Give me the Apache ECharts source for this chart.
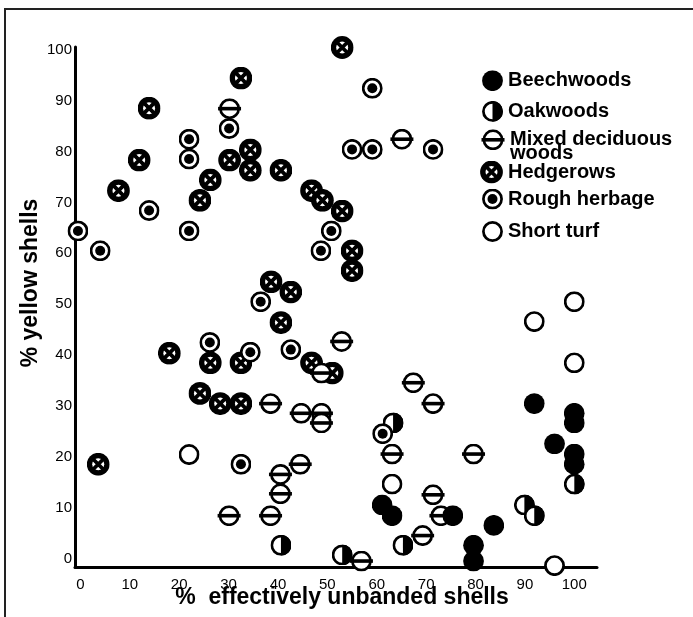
<!DOCTYPE html>
<html><head><meta charset="utf-8">
<script src="https://cdn.jsdelivr.net/npm/echarts@6/dist/echarts.min.js"></script>
<style>html,body{margin:0;padding:0;background:#fff}#c{width:693px;height:617px}</style>
</head><body><div id="c"></div>
<script>
// ---- data (x = % effectively unbanded shells, y = % yellow shells) ----
const beechwoods = [[91.9,30.5],[100,28.6],[100,26.7],[96,22.6],[100,20.6],[100,18.6],[61.1,10.6],[63.1,8.5],[75.4,8.5],[83.7,6.6],[79.6,2.7],[79.6,-0.4]];
const oakwoods = [[63.3,26.7],[40.6,2.7],[53,0.8],[65.3,2.7],[89.9,10.6],[91.9,8.5],[100,14.7]];
const mixedDeciduous = [[30.2,88.4],[65.1,82.4],[52.9,42.7],[48.8,36.5],[67.4,34.6],[38.5,30.5],[71.4,30.5],[44.7,28.6],[48.8,28.6],[48.8,26.7],[63.1,20.6],[79.6,20.6],[44.5,18.6],[40.5,16.6],[40.5,12.8],[71.4,12.6],[30.1,8.5],[38.5,8.5],[73,8.5],[69.3,4.6],[56.9,-0.4]];
const hedgerows = [[53,100.4],[32.5,94.4],[13.9,88.5],[11.9,78.3],[7.7,72.3],[30.2,78.3],[34.4,80.3],[34.4,76.3],[26.3,74.4],[24.2,70.4],[40.6,76.3],[46.8,72.3],[49,70.4],[53,68.3],[55,60.5],[55,56.6],[38.6,54.4],[42.6,52.4],[40.6,46.4],[18,40.4],[26.3,38.5],[32.5,38.5],[46.8,38.5],[51,36.5],[24.2,32.5],[28.3,30.5],[32.5,30.5],[3.6,18.6]];
const roughHerbage = [[59.1,92.4],[30.1,84.5],[22,82.4],[22,78.5],[55,80.4],[59.1,80.4],[71.4,80.4],[13.9,68.4],[-0.5,64.4],[22,64.4],[4,60.5],[50.8,64.4],[48.7,60.5],[36.5,50.5],[26.2,42.5],[34.4,40.6],[42.6,41.1],[61.2,24.6],[32.5,18.6]];
const shortTurf = [[100,50.5],[91.9,46.6],[100,38.5],[22,20.5],[63.1,14.7],[96,-1.3]];
const xTickValues = [0,10,20,30,40,50,60,70,80,90,100];
const yTickValues = [0,10,20,30,40,50,60,70,80,90,100];
const legendNames = ['Beechwoods','Oakwoods','Mixed deciduous woods','Hedgerows','Rough herbage','Short turf'];

// ---- symbols ----
function svgUri(w, h, body) {
  return 'image://data:image/svg+xml;charset=utf-8,' + encodeURIComponent(
    '<svg xmlns="http://www.w3.org/2000/svg" width="' + w + '" height="' + h + '" viewBox="0 0 ' + w + ' ' + h + '">' + body + '</svg>');
}
const ring = (cx, cy) => '<circle cx="' + cx + '" cy="' + cy + '" r="9.1" fill="#fff" stroke="#000" stroke-width="2.7"/>';
const SYM = {
  'Beechwoods': { s: svgUri(21, 21, '<circle cx="10.5" cy="10.5" r="10.4" fill="#000"/>'), size: [21, 21] },
  'Oakwoods': { s: svgUri(21, 21, ring(10.5, 10.5) + '<path d="M10.5,0.1 A10.4,10.4 0 0 1 10.5,20.9 Z" fill="#000"/>'), size: [21, 21] },
  'Mixed deciduous woods': { s: svgUri(24, 21, ring(12, 10.5) + '<rect x="0.5" y="8.7" width="23" height="3.6" fill="#000"/>'), size: [24, 21] },
  'Hedgerows': { s: svgUri(23, 23, '<circle cx="11.5" cy="11.5" r="11.4" fill="#000"/><circle cx="11.5" cy="11.5" r="6" fill="#fff"/>' +
      '<path d="M6,6 L17,17 M17,6 L6,17" stroke="#000" stroke-width="3.8"/>'), size: [23, 23] },
  'Rough herbage': { s: svgUri(21, 21, ring(10.5, 10.5) + '<circle cx="10.5" cy="10.5" r="5" fill="#000"/>'), size: [21, 21] },
  'Short turf': { s: svgUri(21, 21, ring(10.5, 10.5)), size: [21, 21] }
};

const FONT = '"Liberation Sans", Arial, Helvetica, sans-serif';
function series(name, data) {
  return { type: 'scatter', name: name, data: data, symbol: SYM[name].s, symbolSize: SYM[name].size,
    itemStyle: { opacity: 1 }, emphasis: { disabled: true }, animation: false };
}

const legendCentres = [80.7, 111.4, 139.8, 172, 199, 231.5];
const legends = legendNames.map((n, i) => ({
  data: [n], orient: 'vertical', left: 505 - SYM[n].size[0] - 2 + (n === 'Mixed deciduous woods' ? 2 : 0), top: legendCentres[i] - SYM[n].size[1] / 2,
  padding: 0, itemGap: 0, itemWidth: SYM[n].size[0], itemHeight: SYM[n].size[1], selectedMode: false,
  formatter: (nm) => nm === 'Mixed deciduous woods' ? 'Mixed deciduous' : nm,
  textStyle: { fontSize: 20, fontWeight: 'bold', color: '#000', fontFamily: FONT, lineHeight: 20 }
}));

const chart = echarts.init(document.getElementById('c'));
chart.setOption({
  animation: false,
  backgroundColor: '#fff',
  grid: { left: 75, right: 96, top: 47, bottom: 50, containLabel: false },
  xAxis: {
    type: 'value', min: -1.1, max: 104.6,
    splitLine: { show: false }, axisTick: { show: false },
    axisLine: { show: true, onZero: false, lineStyle: { color: '#000', width: 3 } },
    axisLabel: { customValues: xTickValues, color: '#000', fontSize: 15, fontFamily: FONT, margin: 10 },
    name: '%  effectively unbanded shells', nameLocation: 'middle', nameGap: 19, nameMoveOverlap: false,
    nameTextStyle: { fontSize: 23, fontWeight: 'bold', color: '#000', fontFamily: FONT, padding: [0, 0, 0, 12] }
  },
  yAxis: {
    type: 'value', min: -1.57, max: 100.5,
    splitLine: { show: false }, axisTick: { show: false },
    axisLine: { show: true, onZero: false, lineStyle: { color: '#000', width: 3 } },
    axisLabel: { customValues: yTickValues, color: '#000', fontSize: 15, fontFamily: FONT, margin: 3 },
    name: '% yellow shells', nameLocation: 'middle', nameGap: 33, nameRotate: 90, nameMoveOverlap: false,
    nameTextStyle: { fontSize: 23, fontWeight: 'bold', color: '#000', fontFamily: FONT, padding: [0, 0, 0, 48] }
  },
  legend: legends,
  graphic: [
    { type: 'polyline', shape: { points: [[5, 617], [5, 9], [693, 9]] }, style: { stroke: '#222', lineWidth: 2, fill: null }, silent: true },
    { type: 'text', left: 510, top: 143, style: { text: 'woods', font: 'bold 20px ' + FONT, fill: '#000' }, silent: true }
  ],
  series: [
    series('Hedgerows', hedgerows),
    series('Oakwoods', oakwoods),
    series('Rough herbage', roughHerbage),
    series('Mixed deciduous woods', mixedDeciduous),
    series('Short turf', shortTurf),
    series('Beechwoods', beechwoods)
  ]
});
</script></body></html>
